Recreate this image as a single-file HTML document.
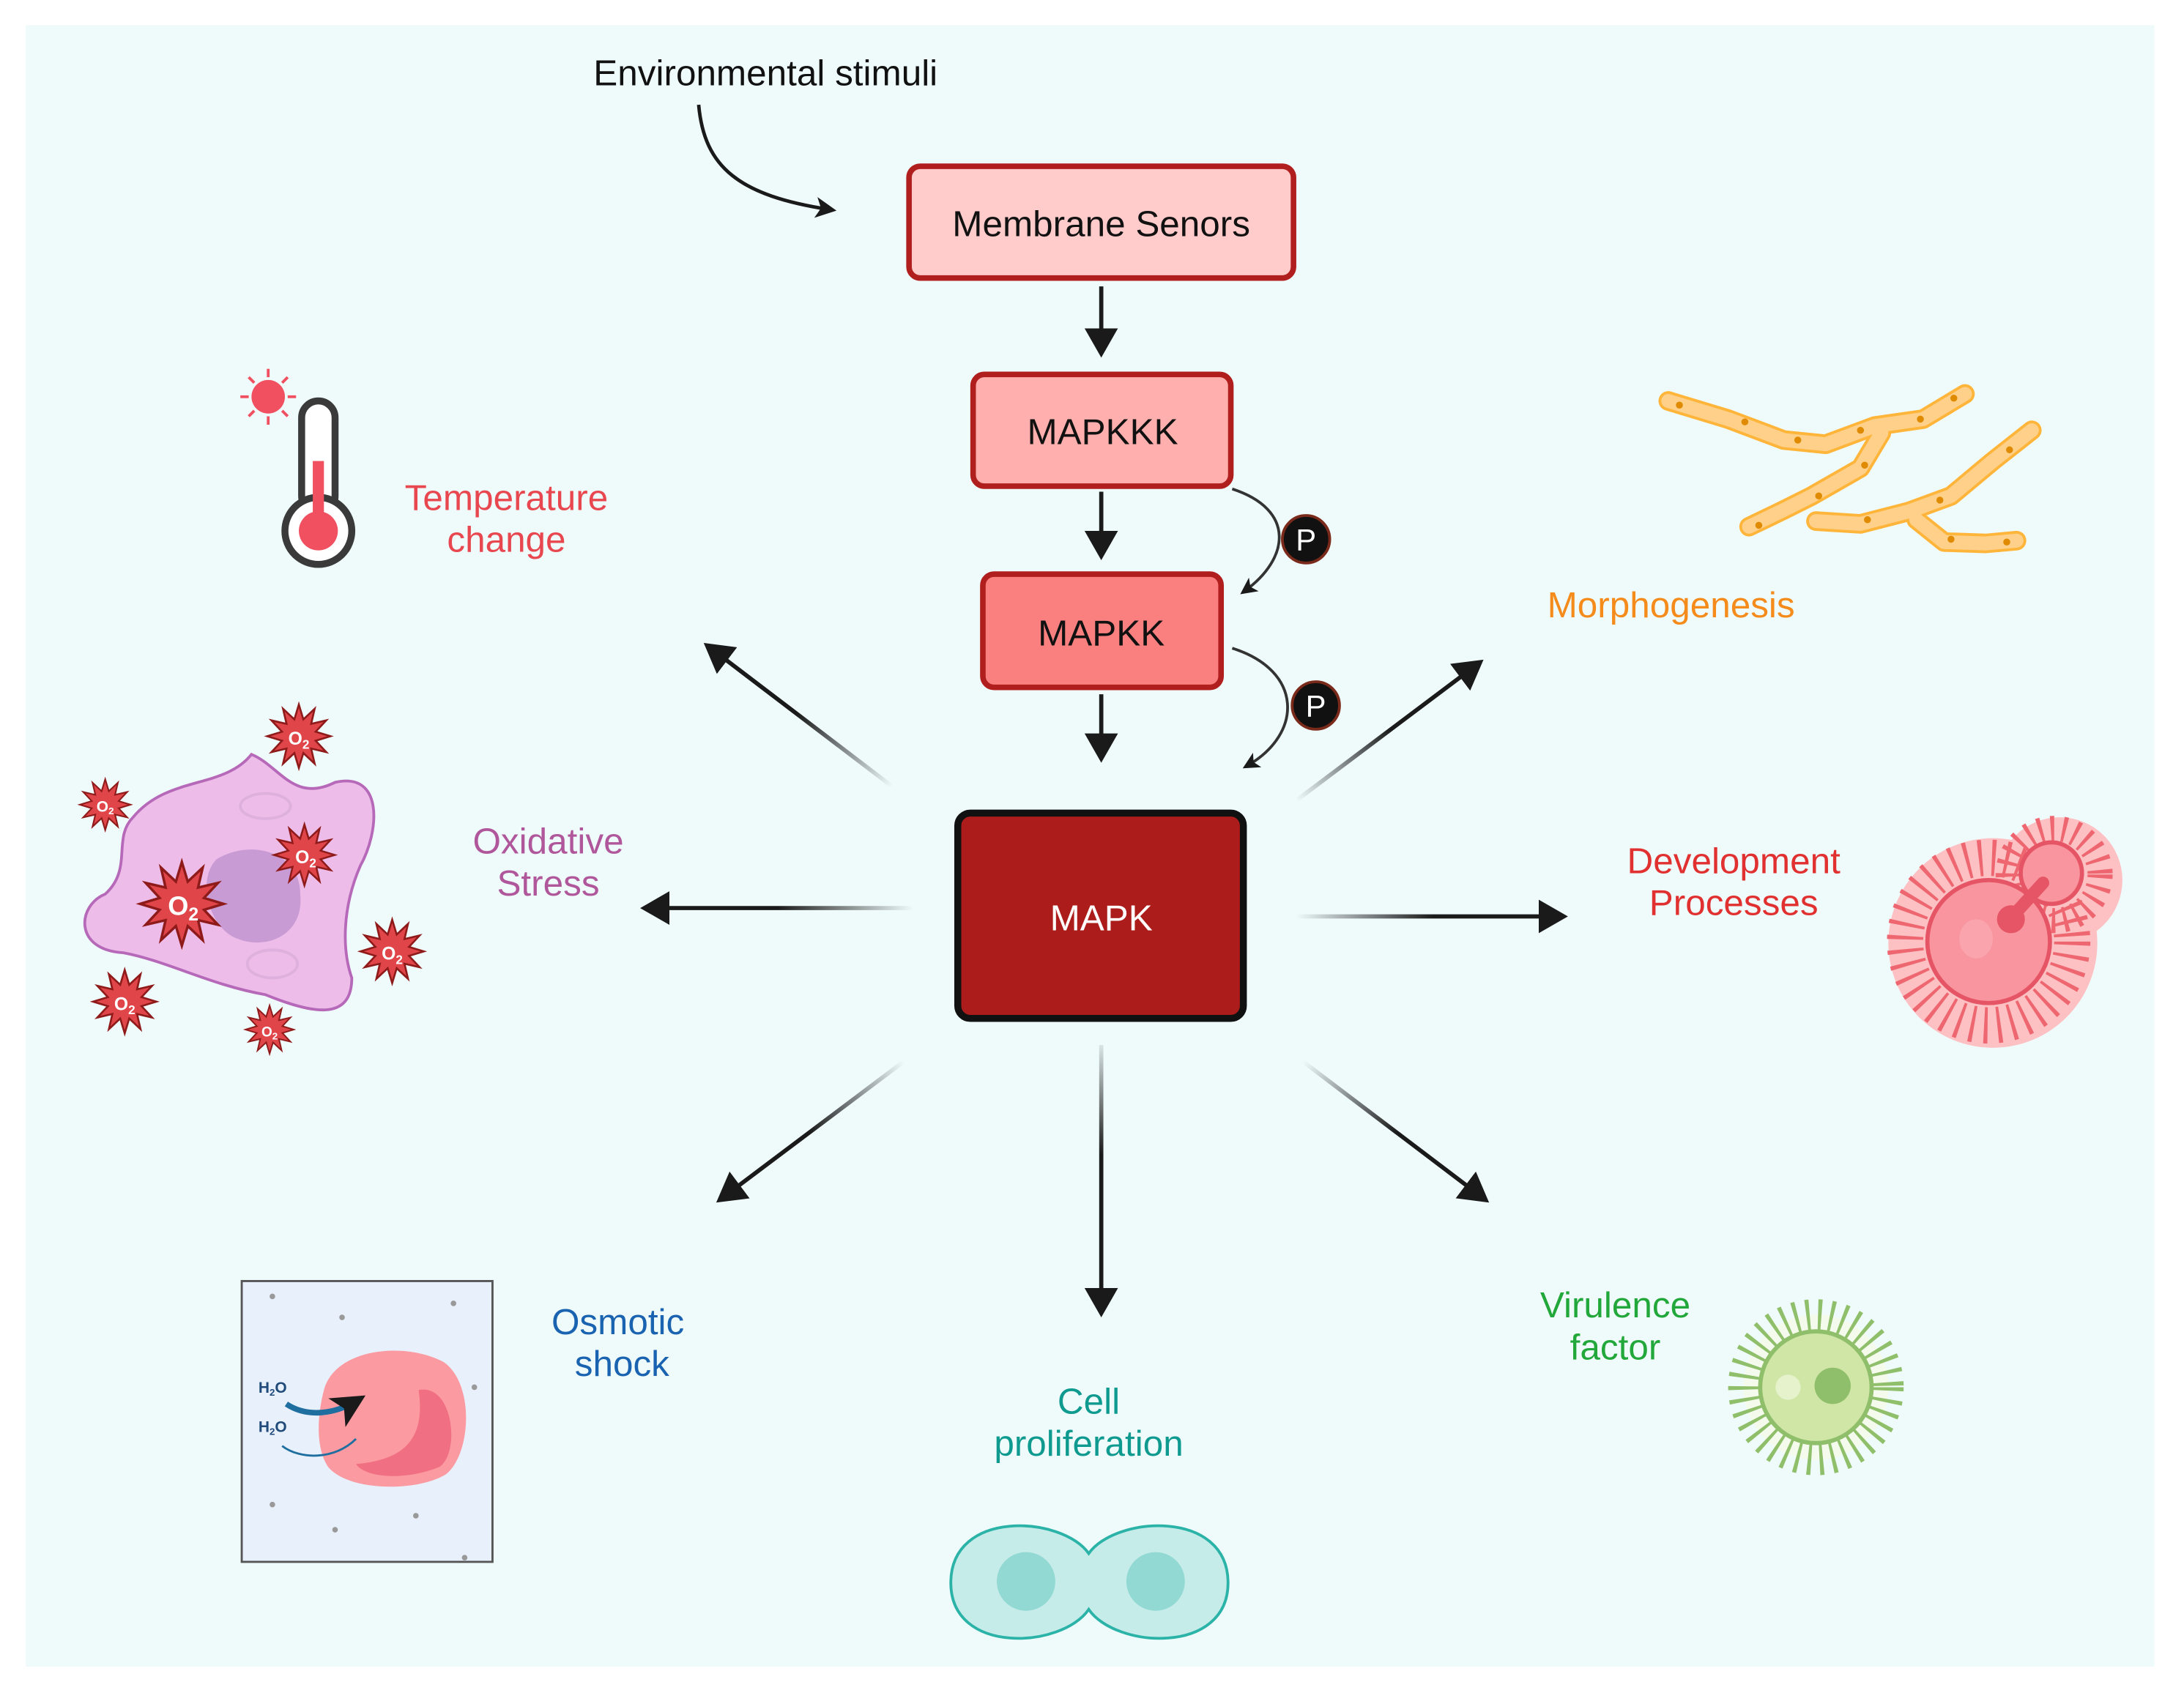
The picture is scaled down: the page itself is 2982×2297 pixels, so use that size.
<!DOCTYPE html>
<html><head><meta charset="utf-8"><style>
html,body{margin:0;padding:0;background:#fff;}
svg{display:block;}
text{font-family:"Liberation Sans",Arial,sans-serif;}
</style></head><body>
<svg width="2982" height="2297" viewBox="0 0 1563 1204" xmlns="http://www.w3.org/2000/svg">
<defs>
<marker id="ah" markerWidth="8" markerHeight="8" refX="6" refY="4" orient="auto" markerUnits="strokeWidth">
<path d="M0,0 L7,4 L0,8 Z" fill="#1a1a1a"/></marker>
<marker id="ah2" markerWidth="6" markerHeight="6" refX="4" refY="3" orient="auto" markerUnits="strokeWidth">
<path d="M0,0 L6,3 L0,6 L1.5,3 Z" fill="#1a1a1a"/></marker>
<linearGradient id="gUL" x1="640" y1="563" x2="503" y2="459" gradientUnits="userSpaceOnUse"><stop offset="0" stop-color="#1a1a1a" stop-opacity="0"/><stop offset="0.5" stop-color="#1a1a1a"/></linearGradient>
<linearGradient id="gL" x1="655" y1="650" x2="460" y2="650" gradientUnits="userSpaceOnUse"><stop offset="0" stop-color="#1a1a1a" stop-opacity="0"/><stop offset="0.5" stop-color="#1a1a1a"/></linearGradient>
<linearGradient id="gDL" x1="648" y1="760" x2="512" y2="862" gradientUnits="userSpaceOnUse"><stop offset="0" stop-color="#1a1a1a" stop-opacity="0"/><stop offset="0.5" stop-color="#1a1a1a"/></linearGradient>
<linearGradient id="gD" x1="790" y1="748" x2="790" y2="945" gradientUnits="userSpaceOnUse"><stop offset="0" stop-color="#1a1a1a" stop-opacity="0.1"/><stop offset="0.4" stop-color="#1a1a1a"/></linearGradient>
<linearGradient id="gDR" x1="935" y1="760" x2="1070" y2="862" gradientUnits="userSpaceOnUse"><stop offset="0" stop-color="#1a1a1a" stop-opacity="0"/><stop offset="0.5" stop-color="#1a1a1a"/></linearGradient>
<linearGradient id="gR" x1="930" y1="656" x2="1127" y2="656" gradientUnits="userSpaceOnUse"><stop offset="0" stop-color="#1a1a1a" stop-opacity="0"/><stop offset="0.5" stop-color="#1a1a1a"/></linearGradient>
<linearGradient id="gUR" x1="930" y1="573" x2="1066" y2="471" gradientUnits="userSpaceOnUse"><stop offset="0" stop-color="#1a1a1a" stop-opacity="0"/><stop offset="0.5" stop-color="#1a1a1a"/></linearGradient>
<symbol id="star" viewBox="-1.1 -1.1 2.2 2.2">
<polygon points="1,0 .531,.142 .866,.5 .389,.389 .5,.866 .142,.531 0,1 -.142,.531 -.5,.866 -.389,.389 -.866,.5 -.531,.142 -1,0 -.531,-.142 -.866,-.5 -.389,-.389 -.5,-.866 -.142,-.531 0,-1 .142,-.531 .5,-.866 .389,-.389 .866,-.5 .531,-.142" fill="#e0454a" stroke="#8e1a1a" stroke-width="0.06" stroke-linejoin="miter"/>
</symbol>
</defs>
<rect x="0" y="0" width="1563" height="1204" fill="#fff"/>
<g transform="translate(0.5,0) scale(0.997,1)">
<rect x="18" y="18" width="1528" height="1175" fill="#effbfb"/>

<text x="549" y="61" font-size="26" text-anchor="middle" fill="#111">Environmental stimuli</text>
<path d="M501,75 C505,120 530,140 595,150" fill="none" stroke="#1a1a1a" stroke-width="2.5" marker-end="url(#ah2)"/>

<rect x="652" y="119" width="276" height="80" rx="8" fill="#ffcccb" stroke="#b01e1e" stroke-width="4"/>
<text x="790" y="169" font-size="26" text-anchor="middle" fill="#111">Membrane Senors</text>
<line x1="790" y1="205" x2="790" y2="253" stroke="#1a1a1a" stroke-width="3" marker-end="url(#ah)"/>
<rect x="698" y="268" width="185" height="80" rx="8" fill="#ffb0ae" stroke="#b01e1e" stroke-width="4"/>
<text x="791" y="318" font-size="26" text-anchor="middle" fill="#111">MAPKKK</text>
<line x1="790" y1="352" x2="790" y2="398" stroke="#1a1a1a" stroke-width="3" marker-end="url(#ah)"/>
<rect x="705" y="411" width="171" height="81" rx="8" fill="#fa8080" stroke="#b01e1e" stroke-width="4"/>
<text x="790" y="462" font-size="26" text-anchor="middle" fill="#111">MAPKK</text>
<line x1="790" y1="497" x2="790" y2="543" stroke="#1a1a1a" stroke-width="3" marker-end="url(#ah)"/>
<rect x="687" y="582" width="205" height="147" rx="9" fill="#ab1c1a" stroke="#111" stroke-width="5"/>
<text x="790" y="666" font-size="26" text-anchor="middle" fill="#fff">MAPK</text>

<path d="M884,350 C930,365 925,400 893,423" fill="none" stroke="#333" stroke-width="2" marker-end="url(#ah2)"/>
<circle cx="937" cy="386" r="17" fill="#111" stroke="#7a2a1a" stroke-width="2"/>
<text x="937" y="394" font-size="22" text-anchor="middle" fill="#fff">P</text>
<path d="M884,464 C935,480 935,525 895,548" fill="none" stroke="#333" stroke-width="2" marker-end="url(#ah2)"/>
<circle cx="944" cy="505" r="17" fill="#111" stroke="#7a2a1a" stroke-width="2"/>
<text x="944" y="513" font-size="22" text-anchor="middle" fill="#fff">P</text>

<line x1="640" y1="563" x2="507" y2="462" stroke="url(#gUL)" stroke-width="3" marker-end="url(#ah)"/>
<line x1="655" y1="650" x2="462" y2="650" stroke="url(#gL)" stroke-width="3" marker-end="url(#ah)"/>
<line x1="648" y1="760" x2="516" y2="859" stroke="url(#gDL)" stroke-width="3" marker-end="url(#ah)"/>
<line x1="790" y1="748" x2="790" y2="940" stroke="url(#gD)" stroke-width="3" marker-end="url(#ah)"/>
<line x1="935" y1="760" x2="1066" y2="859" stroke="url(#gDR)" stroke-width="3" marker-end="url(#ah)"/>
<line x1="930" y1="656" x2="1122" y2="656" stroke="url(#gR)" stroke-width="3" marker-end="url(#ah)"/>
<line x1="930" y1="573" x2="1062" y2="474" stroke="url(#gUR)" stroke-width="3" marker-end="url(#ah)"/>

<g font-size="26" text-anchor="middle">
<text x="363" y="365" fill="#e8474f">Temperature</text><text x="363" y="395" fill="#e8474f">change</text>
<text x="393" y="611" fill="#b0579b">Oxidative</text><text x="393" y="641" fill="#b0579b">Stress</text>
<text x="443" y="955" fill="#1a63b0">Osmotic</text><text x="446" y="985" fill="#1a63b0">shock</text>
<text x="781" y="1012" fill="#0f9a90">Cell</text><text x="781" y="1042" fill="#0f9a90">proliferation</text>
<text x="1159" y="943" fill="#22a83a">Virulence</text><text x="1159" y="973" fill="#22a83a">factor</text>
<text x="1244" y="625" fill="#e0302f">Development</text><text x="1244" y="655" fill="#e0302f">Processes</text>
<text x="1199" y="442" fill="#f58b1a">Morphogenesis</text>
</g>

<g>
<g stroke="#f05060" stroke-width="2">
<line x1="192" y1="264" x2="192" y2="270"/><line x1="192" y1="298" x2="192" y2="304"/>
<line x1="172" y1="284" x2="178" y2="284"/><line x1="206" y1="284" x2="212" y2="284"/>
<line x1="178" y1="270" x2="182" y2="274"/><line x1="202" y1="294" x2="206" y2="298"/>
<line x1="206" y1="270" x2="202" y2="274"/><line x1="178" y1="298" x2="182" y2="294"/>
</g>
<circle cx="192" cy="284" r="12" fill="#f05060"/>
<rect x="216" y="287" width="24" height="80" rx="12" fill="#fff" stroke="#3a3a3a" stroke-width="5"/>
<circle cx="228" cy="380" r="24" fill="#fff" stroke="#3a3a3a" stroke-width="5"/>
<rect x="224" y="330" width="8" height="45" fill="#f05060"/>
<circle cx="228" cy="380" r="14" fill="#f05060"/>
</g>

<path d="M95,585 C120,555 160,565 180,540 C200,548 210,575 240,560 C275,552 272,595 258,620 C245,650 245,680 252,700 C252,732 222,725 190,712 C150,705 120,688 88,682 C52,680 55,648 75,640 C95,622 80,600 95,585 Z" fill="#edbce9" stroke="#b569b8" stroke-width="2"/>
<path d="M155,615 C180,600 215,610 215,640 C218,670 190,680 170,672 C150,665 140,630 155,615 Z" fill="#c99bd4"/>
<ellipse cx="190" cy="577" rx="18" ry="9" fill="none" stroke="#ddb0dd" stroke-width="2"/>
<ellipse cx="195" cy="690" rx="18" ry="10" fill="none" stroke="#ddb0dd" stroke-width="2"/>
<g>
<use href="#star" x="189" y="502" width="50" height="50"/>
<use href="#star" x="55" y="556" width="40" height="40"/>
<use href="#star" x="194" y="588" width="48" height="48"/>
<use href="#star" x="97" y="614" width="66" height="66"/>
<use href="#star" x="256" y="656" width="50" height="50"/>
<use href="#star" x="64" y="692" width="50" height="50"/>
<use href="#star" x="174" y="718" width="38" height="38"/>
</g>
<g fill="#fff" font-weight="bold" text-anchor="middle">
<text x="214" y="533" font-size="13">O<tspan font-size="9" dy="3">2</tspan></text>
<text x="75" y="581" font-size="11">O<tspan font-size="7" dy="2">2</tspan></text>
<text x="219" y="618" font-size="13">O<tspan font-size="9" dy="3">2</tspan></text>
<text x="131" y="655" font-size="19">O<tspan font-size="13" dy="4">2</tspan></text>
<text x="281" y="687" font-size="13">O<tspan font-size="9" dy="3">2</tspan></text>
<text x="89" y="723" font-size="13">O<tspan font-size="9" dy="3">2</tspan></text>
<text x="193" y="742" font-size="10">O<tspan font-size="7" dy="2">2</tspan></text>
</g>

<rect x="173" y="917" width="180" height="201" fill="#e8f0fb" stroke="#555" stroke-width="1.5"/>
<g fill="#999"><circle cx="195" cy="928" r="2"/><circle cx="245" cy="943" r="2"/><circle cx="325" cy="933" r="2"/><circle cx="340" cy="993" r="2"/><circle cx="195" cy="1077" r="2"/><circle cx="240" cy="1095" r="2"/><circle cx="298" cy="1085" r="2"/><circle cx="333" cy="1115" r="2"/></g>
<path d="M232,995 C240,965 290,960 318,975 C340,990 338,1040 320,1055 C300,1068 250,1068 235,1050 C225,1035 228,1010 232,995 Z" fill="#fb9aa0"/>
<path d="M300,995 C325,990 330,1040 315,1050 C290,1060 262,1058 255,1048 C290,1045 305,1030 300,995 Z" fill="#f06f82"/>
<path d="M205,1005 C220,1015 240,1012 255,1003" fill="none" stroke="#1f6ea0" stroke-width="4" marker-end="url(#ah2)"/>
<path d="M255,1030 C240,1045 215,1045 202,1035" fill="none" stroke="#1f6ea0" stroke-width="1.5"/>
<text x="185" y="997" font-size="11" font-weight="bold" fill="#1f4a7a">H<tspan font-size="7" dy="2">2</tspan><tspan dy="-2">O</tspan></text>
<text x="185" y="1025" font-size="11" font-weight="bold" fill="#1f4a7a">H<tspan font-size="7" dy="2">2</tspan><tspan dy="-2">O</tspan></text>

<path d="M781,1112 C800,1085 881,1080 881,1133 C881,1185 800,1180 781,1152 C762,1180 682,1185 682,1133 C682,1080 762,1085 781,1112 Z" fill="#c6ecea" stroke="#2bb3a8" stroke-width="2"/>
<circle cx="736" cy="1132" r="21" fill="#93d9d3"/>
<circle cx="829" cy="1132" r="21" fill="#93d9d3"/>

<!-- virulence -->
<circle cx="1303" cy="993" r="52" fill="#f6fbe8" opacity="0.8"/>
<circle cx="1303" cy="993" r="52" fill="none" stroke="#8fbf6a" stroke-width="22" stroke-dasharray="2.5 6"/>
<circle cx="1303" cy="993" r="40" fill="#d0e6a6" stroke="#8fbf6a" stroke-width="3"/>
<circle cx="1315" cy="992" r="13" fill="#8fbf6a"/>
<circle cx="1283" cy="993" r="9" fill="#e6f2cc"/>

<!-- development -->
<circle cx="1430" cy="675" r="75" fill="#fdc0c3"/>
<circle cx="1478" cy="630" r="45" fill="#fdc0c3"/>
<circle cx="1427" cy="674" r="60" fill="none" stroke="#ee6770" stroke-width="26" stroke-dasharray="2.5 7"/>
<circle cx="1474" cy="626" r="33" fill="none" stroke="#ee6770" stroke-width="18" stroke-dasharray="2.5 6"/>
<circle cx="1427" cy="674" r="44" fill="#f8959f" stroke="#e65565" stroke-width="3"/>
<circle cx="1472" cy="625" r="22" fill="#f8959f" stroke="#e65565" stroke-width="3"/>
<path d="M1445,655 L1466,632" stroke="#e65565" stroke-width="9" stroke-linecap="round"/>
<circle cx="1443" cy="658" r="10" fill="#e65565"/>
<ellipse cx="1418" cy="672" rx="12" ry="14" fill="#faa5ad"/>

<!-- morphogenesis -->
<g fill="none" stroke-linecap="round" stroke-linejoin="round">
<g stroke="#ffb43a" stroke-width="14">
<path d="M1197,287 L1240,300 L1280,315 L1310,318 L1345,305 L1380,300 L1410,282"/>
<path d="M1350,310 L1335,335 L1300,355 L1280,365 L1255,377"/>
<path d="M1303,373 L1335,375 L1370,366 L1400,355 L1430,330 L1458,308"/>
<path d="M1375,372 L1395,388 L1425,389 L1447,387"/>
</g>
<g stroke="#ffd08a" stroke-width="10">
<path d="M1197,287 L1240,300 L1280,315 L1310,318 L1345,305 L1380,300 L1410,282"/>
<path d="M1350,310 L1335,335 L1300,355 L1280,365 L1255,377"/>
<path d="M1303,373 L1335,375 L1370,366 L1400,355 L1430,330 L1458,308"/>
<path d="M1375,372 L1395,388 L1425,389 L1447,387"/>
</g>
</g>
<g fill="#e08a00"><circle cx="1205" cy="290" r="2.5"/><circle cx="1252" cy="302" r="2.5"/><circle cx="1290" cy="315" r="2.5"/><circle cx="1335" cy="308" r="2.5"/><circle cx="1378" cy="300" r="2.5"/><circle cx="1402" cy="285" r="2.5"/><circle cx="1338" cy="333" r="2.5"/><circle cx="1305" cy="355" r="2.5"/><circle cx="1262" cy="376" r="2.5"/><circle cx="1340" cy="372" r="2.5"/><circle cx="1392" cy="358" r="2.5"/><circle cx="1442" cy="322" r="2.5"/><circle cx="1400" cy="386" r="2.5"/><circle cx="1440" cy="388" r="2.5"/></g>
</g>
</svg>
</body></html>
